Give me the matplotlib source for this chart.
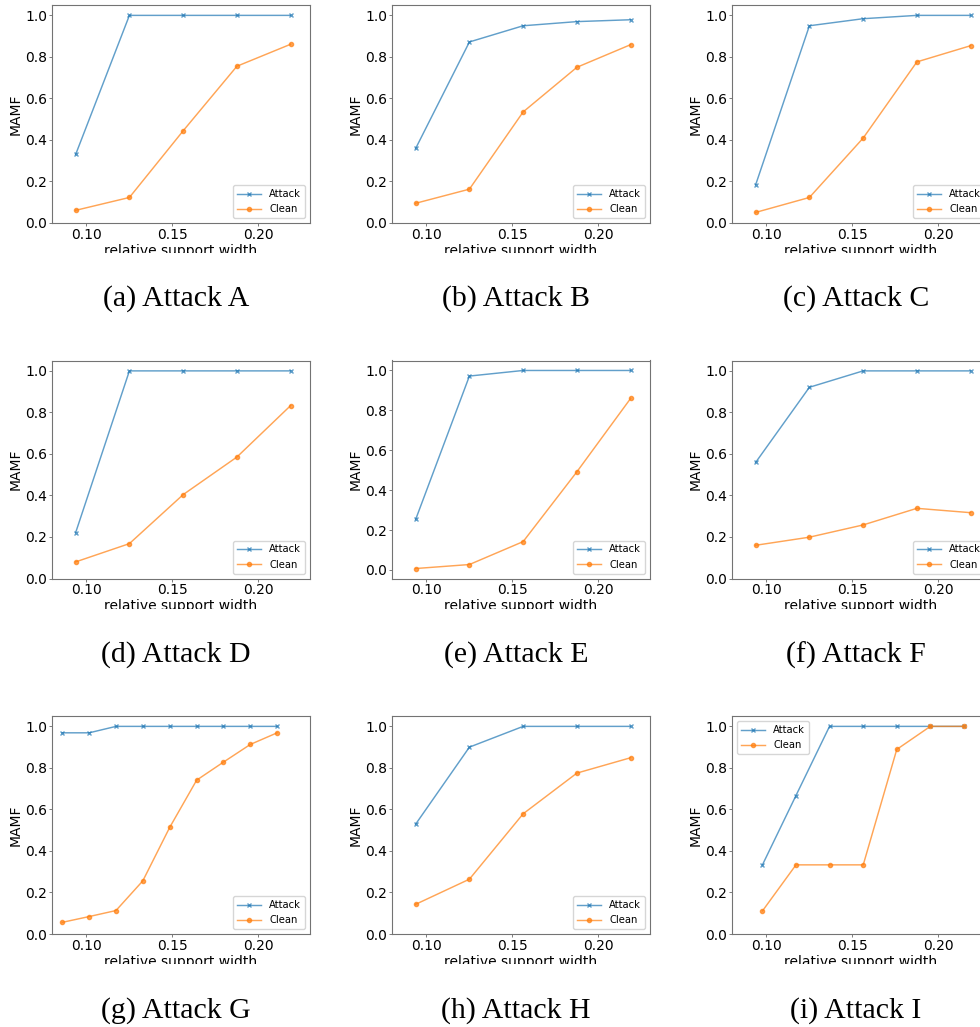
import matplotlib
matplotlib.use("Agg")
import matplotlib.pyplot as plt
from matplotlib.patches import Rectangle

# relative support widths
x_std = [0.09375, 0.125, 0.15625, 0.1875, 0.21875]
x_g = [0.0859, 0.1016, 0.1172, 0.1328, 0.1484, 0.1641, 0.1797, 0.1953, 0.2109]
x_i = [0.0977, 0.1172, 0.1367, 0.1563, 0.1758, 0.1953, 0.2148]

# MAMF values per attack
attack_a = [0.33, 1.0, 1.0, 1.0, 1.0]
clean_a = [0.061, 0.123, 0.444, 0.755, 0.861]
attack_b = [0.359, 0.872, 0.950, 0.970, 0.979]
clean_b = [0.095, 0.163, 0.535, 0.750, 0.859]
attack_c = [0.184, 0.950, 0.984, 1.0, 1.0]
clean_c = [0.051, 0.123, 0.409, 0.776, 0.854]
attack_d = [0.221, 1.0, 1.0, 1.0, 1.0]
clean_d = [0.080, 0.168, 0.404, 0.585, 0.833]
attack_e = [0.253, 0.972, 1.0, 1.0, 1.0]
clean_e = [0.007, 0.027, 0.142, 0.492, 0.860]
attack_f = [0.559, 0.921, 1.0, 1.0, 1.0]
clean_f = [0.160, 0.199, 0.258, 0.338, 0.317]
attack_g = [0.969, 0.969, 1.0, 1.0, 1.0, 1.0, 1.0, 1.0, 1.0]
clean_g = [0.056, 0.084, 0.113, 0.256, 0.513, 0.741, 0.828, 0.913, 0.969]
attack_h = [0.529, 0.900, 1.0, 1.0, 1.0]
clean_h = [0.143, 0.264, 0.579, 0.775, 0.849]
attack_i = [0.333, 0.667, 1.0, 1.0, 1.0, 1.0, 1.0]
clean_i = [0.111, 0.333, 0.333, 0.333, 0.889, 1.0, 1.0]

captions = ["(a) Attack A", "(b) Attack B", "(c) Attack C",
            "(d) Attack D", "(e) Attack E", "(f) Attack F",
            "(g) Attack G", "(h) Attack H", "(i) Attack I"]

panels = [
    (x_std, attack_a, clean_a, 0.0, "lower right"),
    (x_std, attack_b, clean_b, 0.0, "lower right"),
    (x_std, attack_c, clean_c, 0.0, "lower right"),
    (x_std, attack_d, clean_d, 0.0, "lower right"),
    (x_std, attack_e, clean_e, -0.043, "lower right"),
    (x_std, attack_f, clean_f, 0.0, "lower right"),
    (x_g, attack_g, clean_g, 0.0, "lower right"),
    (x_std, attack_h, clean_h, 0.0, "lower right"),
    (x_i, attack_i, clean_i, 0.0, "upper left"),
]

W, H = 980, 1027
fig = plt.figure(figsize=(W / 100, H / 100), dpi=100)

col_left = [52, 392, 732]
row_top = [5, 360.5, 716]
ax_w, ax_h = 258, 218

for k, (xs, att, cln, ybot, loc) in enumerate(panels):
    r, c = divmod(k, 3)
    left = col_left[c]
    top = row_top[r]
    ax = fig.add_axes([left / W, 1 - (top + ax_h) / H, ax_w / W, ax_h / H])
    ax.plot(xs, att, color="tab:blue", marker="x", markersize=3,
            linewidth=1.05, alpha=0.7, label="Attack")
    ax.plot(xs, cln, color="tab:orange", marker="o", markersize=3,
            linewidth=1.05, alpha=0.7, label="Clean")
    ax.set_xlim(0.08, 0.23)
    ax.set_ylim(ybot, 1.05)
    ax.set_xticks([0.10, 0.15, 0.20])
    ax.set_xticklabels(["0.10", "0.15", "0.20"])
    ax.set_yticks([0.0, 0.2, 0.4, 0.6, 0.8, 1.0])
    ax.tick_params(labelsize=10, length=2, width=0.6, pad=1.5,
                   color="0.4")
    for sp in ax.spines.values():
        sp.set_color("0.45")
        sp.set_linewidth(0.8)
    ax.set_xlabel("relative support width", fontsize=10, labelpad=1.5)
    ax.set_ylabel("MAMF", fontsize=10, labelpad=2)
    ax.legend(loc=loc, fontsize=7.2, handlelength=2.4)

    # the subfigure images are cut just below the x label
    cut = top + ax_h + 30
    fig.add_artist(Rectangle((0, 1 - (cut + 28) / H), 1, 28 / H,
                             transform=fig.transFigure, facecolor="white",
                             edgecolor="none", zorder=5))
    fig.text((176 + 340 * c) / W, 1 - (299 + 356 * r) / H, captions[k],
             ha="center", va="center", fontsize=21.5,
             family="Liberation Serif", zorder=6)

fig.savefig("out.png", dpi=100)
